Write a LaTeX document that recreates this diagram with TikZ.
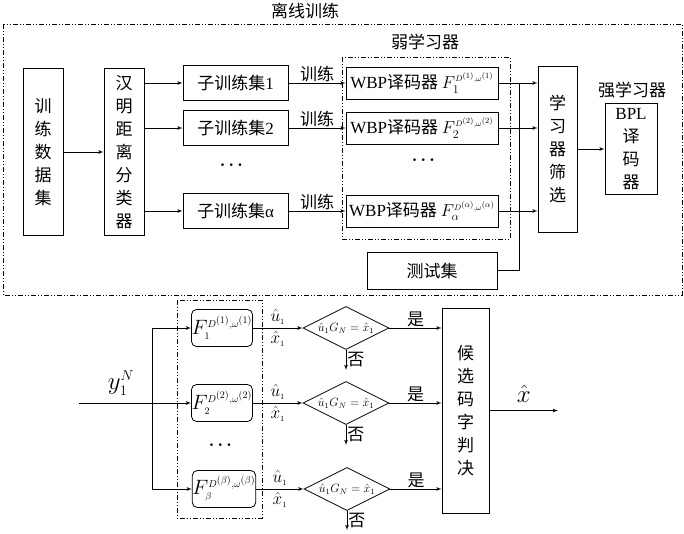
\documentclass[tikz,border=0pt]{standalone}
\usepackage{fontspec}
\usepackage{amsmath}
\usepackage{tikz}
\usetikzlibrary{shapes,arrows}
\setmainfont{Noto Sans CJK SC}
\newfontfamily\lat{Liberation Serif}
\tikzstyle{block} = [rectangle, draw, line width=0.8pt, inner sep=0pt,
    text centered, align=center, font=\fontsize{17}{23}\selectfont]
\tikzstyle{fblock} = [block, rounded corners=5pt, minimum width=55pt,
    minimum height=37pt, font=\fontsize{20}{22}\selectfont]
\tikzstyle{decision} = [diamond, aspect=2, draw, line width=0.8pt, inner sep=0pt,
    minimum width=86pt, minimum height=43pt, font=\fontsize{12}{14}\selectfont]
\tikzstyle{line} = [draw, line width=0.8pt, -latex']
\tikzstyle{group} = [draw, line width=0.8pt,
    dash pattern=on 5pt off 2pt on 1pt off 2pt on 1pt off 2pt]
\tikzstyle{tag} = [font=\fontsize{17}{20}\selectfont, inner sep=1pt]

\begin{document}
\begin{tikzpicture}[x=1pt, y=-1pt, auto]
    \useasboundingbox (0,0) rectangle (684,533);
    % Groups
    \draw [group] (3,24) rectangle (682,295);
    \draw [group] (342,57) rectangle (510,239);
    \draw [group] (177,300) rectangle (262,518);
    \node [tag] (offline) at (305,11) {离线训练};
    \node [tag] (weak) at (425,42) {弱学习器};
    \node [tag] (strong) at (632,90) {强学习器};

    % Place nodes
    \node [block, minimum width=40pt, minimum height=167pt] (train) at (43,152)
        {训\\练\\数\\据\\集};
    \node [block, minimum width=40pt, minimum height=167pt] (hamming) at (124,152)
        {汉\\明\\距\\离\\分\\类\\器};
    \node [block, minimum width=105pt, minimum height=35pt] (sub1) at (235.5,83)
        {子训练集{\lat 1}};
    \node [block, minimum width=105pt, minimum height=35pt] (sub2) at (235.5,128)
        {子训练集{\lat 2}};
    \node [tag] (dotsa) at (233,165) {$\boldsymbol{\cdots}$};
    \node [block, minimum width=105pt, minimum height=35pt] (suba) at (235.5,211)
        {子训练集{\lat α}};
    \node [block, minimum width=152pt, minimum height=32pt] (wbp1) at (422,83)
        {{\lat WBP}译码器 $F_1^{\scriptscriptstyle D^{(1)},\omega^{(1)}}$};
    \node [block, minimum width=152pt, minimum height=32pt] (wbp2) at (422,128)
        {{\lat WBP}译码器 $F_2^{\scriptscriptstyle D^{(2)},\omega^{(2)}}$};
    \node [tag] (dotsb) at (425,160) {$\boldsymbol{\cdots}$};
    \node [block, minimum width=152pt, minimum height=32pt] (wbpa) at (422,211)
        {{\lat WBP}译码器 $F_\alpha^{\scriptscriptstyle D^{(\alpha)},\omega^{(\alpha)}}$};
    \node [block, minimum width=39pt, minimum height=166pt] (select) at (557.5,149)
        {学\\习\\器\\筛\\选};
    \node [block, minimum width=130pt, minimum height=37pt] (test) at (432,270.5)
        {测试集};
    \node [block, minimum width=52pt, minimum height=91pt] (bpl) at (631,149)
        {{\lat BPL}\\译\\码\\器};
    \coordinate (jn) at (519,83);

    \coordinate (yin) at (79,403);
    \coordinate (split) at (152,403);
    \node (ylab) at (121,383) {\fontsize{28}{28}\selectfont$y_{\scriptscriptstyle 1}^{\scriptscriptstyle N}$};
    \node [fblock] (f1) at (222,328) {$F_{\scriptscriptstyle 1}^{\scriptscriptstyle D^{(1)},\omega^{(1)}}$};
    \node [fblock] (f2) at (222,403) {$F_{\scriptscriptstyle 2}^{\scriptscriptstyle D^{(2)},\omega^{(2)}}$};
    \node [tag] (dotsc) at (222,445) {$\boldsymbol{\cdots}$};
    \node [fblock] (fb) at (224,489) {$F_{\scriptscriptstyle \beta}^{\scriptscriptstyle D^{(\beta)},\omega^{(\beta)}}$};
    \node [decision] (d1) at (346,328) {$\hat{u}_1G_N=\hat{x}_1$};
    \node [decision] (d2) at (346,403) {$\hat{u}_1G_N=\hat{x}_1$};
    \node [decision] (d3) at (347,489) {$\hat{u}_1G_N=\hat{x}_1$};
    \coordinate (no1) at (346,370);
    \coordinate (no2) at (346,445);
    \coordinate (no3) at (347,530);
    \node [block, minimum width=47pt, minimum height=205pt] (judge) at (465.5,410.5)
        {候\\选\\码\\字\\判\\决};
    \coordinate (out) at (558,410.5);

    % Draw edges
    \path [line] (train) -- (hamming);
    \path [line] (hamming.east |- sub1) -- (sub1);
    \path [line] (hamming.east |- sub2) -- (sub2);
    \path [line] (hamming.east |- suba) -- (suba);
    \path [line] (sub1) -- node [tag, above] {训练} (wbp1);
    \path [line] (sub2) -- node [tag, above] {训练} (wbp2);
    \path [line] (suba) -- node [tag, above] {训练} (wbpa);
    \path [line] (wbp1) -- (wbp1 -| select.west);
    \path [line] (wbp2) -- (wbp2 -| select.west);
    \path [line] (wbpa) -- (wbpa -| select.west);
    \draw [line width=0.8pt] (test.east) -| (jn);
    \path [line] (select) -- (bpl);

    \path [line] (yin) -- (f2);
    \path [line] (split) |- (f1);
    \path [line] (split) |- (fb);
    \path [line] (f1) -- node [above] {\fontsize{17}{17}\selectfont$\hat{u}_{\scriptscriptstyle 1}$}
        node [below] {\fontsize{17}{17}\selectfont$\hat{x}_{\scriptscriptstyle 1}$} (d1);
    \path [line] (f2) -- node [above] {\fontsize{17}{17}\selectfont$\hat{u}_{\scriptscriptstyle 1}$}
        node [below] {\fontsize{17}{17}\selectfont$\hat{x}_{\scriptscriptstyle 1}$} (d2);
    \path [line] (fb) -- node [above] {\fontsize{17}{17}\selectfont$\hat{u}_{\scriptscriptstyle 1}$}
        node [below] {\fontsize{17}{17}\selectfont$\hat{x}_{\scriptscriptstyle 1}$} (d3);
    \path [line] (d1) -- node [tag, right] {否} (no1);
    \path [line] (d2) -- node [tag, right] {否} (no2);
    \path [line] (d3) -- node [tag, right] {否} (no3);
    \path [line] (d1) -- node [tag, above] {是} (d1 -| judge.west);
    \path [line] (d2) -- node [tag, above] {是} (d2 -| judge.west);
    \path [line] (d3) -- node [tag, above] {是} (d3 -| judge.west);
    \path [line] (judge) -- node [above=4pt] {\fontsize{24}{24}\selectfont$\hat{x}$} (out);
\end{tikzpicture}
\end{document}
